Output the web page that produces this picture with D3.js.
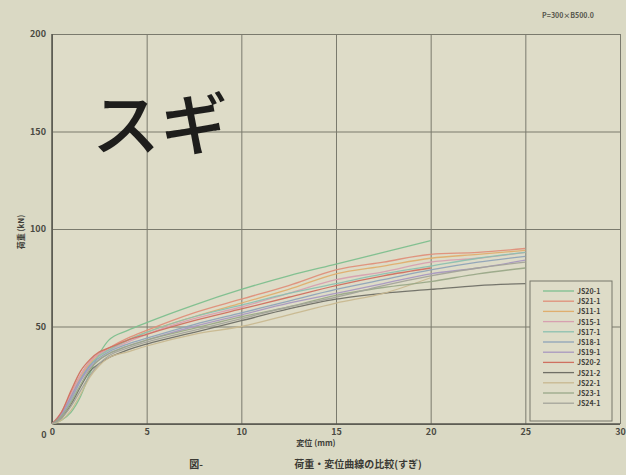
<!DOCTYPE html>
<html><head><meta charset="utf-8">
<script src="https://cdn.jsdelivr.net/npm/d3@7"></script>
<style>
html,body{margin:0;padding:0;background:#dad9c4;}
svg{display:block;}
text{font-family:"Noto Sans CJK JP","Noto Sans",sans-serif;}
</style></head>
<body>
<svg id="chart" width="626" height="475"></svg>
<script>
// ---- data ----
const xValues = [0, 0.5, 1, 1.5, 2, 2.5, 3, 4, 5, 7.5, 10, 12.5, 15, 17.5, 20, 22.5, 25];
const xTicks = [0, 5, 10, 15, 20, 25, 30];
const yTicks = [0, 50, 100, 150, 200];
const seriesNames = ["JS20-1","JS21-1","JS11-1","JS15-1","JS17-1","JS18-1","JS19-1","JS20-2","JS21-2","JS22-1","JS23-1","JS24-1"];
const s01 = [0, 2, 6, 14, 26, 36, 43, 48, 52, 61, 69, 76, 82, 88, 94, null, null];
const s02 = [0, 6, 16, 25, 32, 36, 39, 44, 48, 57, 64, 71, 79, 83, 87, 88, 90];
const s03 = [0, 5, 14, 24, 31, 35, 38, 43, 47, 55, 62, 69, 77, 81, 85, 87, 89];
const s04 = [0, 6, 15, 25, 32, 36, 38, 42, 46, 54, 60, 67, 74, 78, 83, 85, 88];
const s05 = [0, 4, 12, 22, 30, 35, 38, 43, 47, 55, 61, 67, 72, 77, 81, 85, 88];
const s06 = [0, 5, 14, 23, 30, 34, 37, 41, 44, 51, 57, 63, 69, 74, 79, 83, 86];
const s07 = [0, 5, 13, 22, 29, 33, 36, 40, 43, 50, 56, 62, 67, 72, 77, 80, 84];
const s08 = [0, 6, 17, 27, 33, 37, 39, 43, 46, 53, 59, 65, 71, 76, 80, null, null];
const s09 = [0, 3, 10, 19, 27, 31, 34, 38, 41, 47, 53, 59, 64, 67, 69, 71, 72];
const s10 = [0, 2, 7, 15, 24, 30, 34, 37, 40, 46, 50, 56, 62, 67, 75, null, null];
const s11 = [0, 4, 11, 20, 28, 33, 36, 40, 43, 49, 55, 60, 66, 70, 73, 77, 80];
const s12 = [0, 3, 9, 17, 25, 31, 35, 39, 42, 48, 54, 60, 65, 71, 76, 80, 83];
const seriesValues = [s01, s02, s03, s04, s05, s06, s07, s08, s09, s10, s11, s12];
const colors = ["#7dbf8e","#df8f7a","#dfae6e","#d7a0b0","#8cc0b0","#8fa3b8","#a898c0","#cf7060","#6f6f66","#c8b890","#9aa888","#a3a39a"];

// ---- layout ----
const svg = d3.select("#chart");
const x = d3.scaleLinear().domain([0, 30]).range([52, 620]);
const y = d3.scaleLinear().domain([0, 200]).range([424, 34]);

svg.append("rect").attr("width", 626).attr("height", 475).attr("fill", "#dad9c4");
svg.append("rect").attr("x", 52).attr("y", 34).attr("width", 568).attr("height", 390).attr("fill", "#dedcc8");

// grid
const gx = svg.append("g").attr("transform", "translate(0,424)")
  .call(d3.axisBottom(x).tickValues(xTicks).tickSize(-390).tickFormat(""));
gx.selectAll("line").attr("stroke", "#7a7a6d").attr("stroke-width", 1);
gx.select(".domain").remove();
const gy = svg.append("g").attr("transform", "translate(52,0)")
  .call(d3.axisLeft(y).tickValues(yTicks).tickSize(-568).tickFormat(""));
gy.selectAll("line").attr("stroke", "#7a7a6d").attr("stroke-width", 1);
gy.select(".domain").remove();

// axes lines
svg.append("line").attr("x1", 52).attr("x2", 620).attr("y1", 424).attr("y2", 424).attr("stroke", "#55554c").attr("stroke-width", 1.5);
svg.append("line").attr("x1", 52).attr("x2", 52).attr("y1", 34).attr("y2", 424).attr("stroke", "#55554c").attr("stroke-width", 1.5);

// tick labels
const ax = svg.append("g").attr("transform", "translate(0,424)")
  .call(d3.axisBottom(x).tickValues(xTicks).tickSize(0).tickPadding(5).tickFormat(d3.format("d")));
ax.select(".domain").remove();
ax.selectAll("text").attr("font-size", 9).attr("fill", "#4a4a42").attr("font-weight", "bold");
const ay = svg.append("g").attr("transform", "translate(52,0)")
  .call(d3.axisLeft(y).tickValues(yTicks.slice(1)).tickSize(0).tickPadding(6).tickFormat(d3.format("d")));
ay.select(".domain").remove();
ay.selectAll("text").attr("font-size", 9).attr("fill", "#4a4a42").attr("font-weight", "bold");
svg.append("text").attr("x", 44).attr("y", 438).attr("text-anchor", "middle").attr("font-size", 9)
  .attr("font-weight", "bold").attr("fill", "#4a4a42").text("0");

// curves
const line = d3.line().defined(d => d[1] !== null).x(d => x(d[0])).y(d => y(d[1])).curve(d3.curveMonotoneX);
seriesValues.forEach((vals, i) => {
  const pts = xValues.map((xv, j) => [xv, vals[j]]);
  svg.append("path").attr("d", line(pts)).attr("fill", "none")
    .attr("stroke", colors[i]).attr("stroke-width", 1.3).attr("opacity", 0.95);
});

// legend
const lg = svg.append("g");
lg.append("rect").attr("x", 530).attr("y", 281).attr("width", 82).attr("height", 140)
  .attr("fill", "#dedcc8").attr("stroke", "#77776a").attr("stroke-width", 1);
seriesNames.forEach((n, i) => {
  const yy = 291 + i * 10.2;
  lg.append("line").attr("x1", 543).attr("x2", 574).attr("y1", yy).attr("y2", yy)
    .attr("stroke", colors[i]).attr("stroke-width", 1.3);
  lg.append("text").attr("x", 577).attr("y", yy + 3).attr("font-size", 7).attr("font-weight", "bold")
    .attr("fill", "#3e3e38").text(n);
});

// titles
svg.append("text").attr("transform", "translate(24,232) rotate(-90)").attr("text-anchor", "middle")
  .attr("font-size", 8).attr("font-weight", "bold").attr("fill", "#3e3e38").text("荷重 (kN)");
svg.append("text").attr("x", 316).attr("y", 446).attr("text-anchor", "middle")
  .attr("font-size", 8).attr("font-weight", "bold").attr("fill", "#3e3e38").text("変位 (mm)");
svg.append("text").attr("x", 196).attr("y", 468).attr("text-anchor", "middle")
  .attr("font-size", 10).attr("font-weight", "bold").attr("fill", "#3a3a34").text("図-");
svg.append("text").attr("x", 358).attr("y", 468).attr("text-anchor", "middle")
  .attr("font-size", 10).attr("font-weight", "bold").attr("fill", "#3a3a34").text("荷重・変位曲線の比較(すぎ)");
svg.append("text").attr("x", 568).attr("y", 18).attr("text-anchor", "middle")
  .attr("font-size", 7).attr("font-weight", "bold").attr("fill", "#55554c").text("P=300×B500.0");
svg.append("text").attr("x", 92).attr("y", 150).attr("font-size", 68).attr("font-weight", 500)
  .attr("fill", "#1e1e1c").text("スギ");
</script>
</body></html>
